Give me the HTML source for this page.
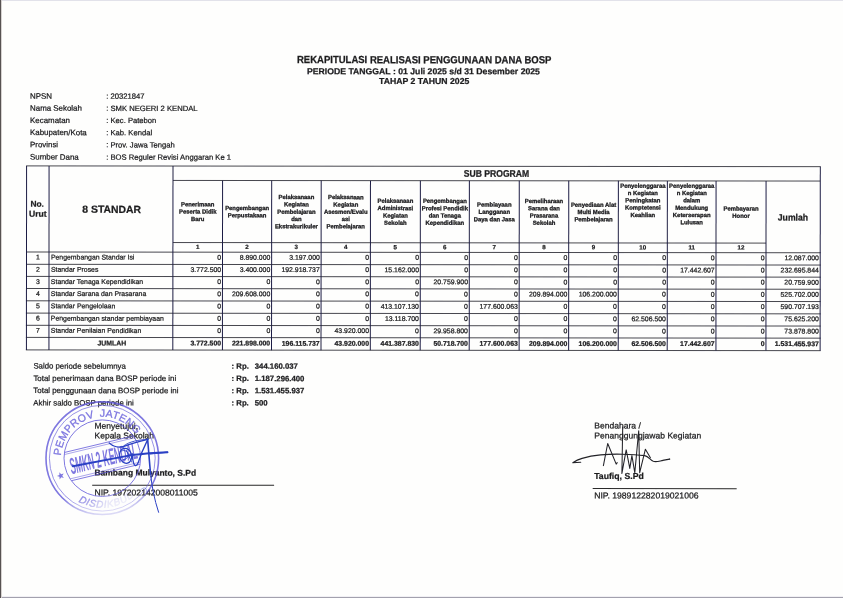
<!DOCTYPE html>
<html lang="id"><head><meta charset="utf-8"><title>Rekapitulasi Realisasi Penggunaan Dana BOSP</title>
<style>
html,body{margin:0;padding:0;background:#fefefd;}
body{width:843px;height:598px;position:relative;overflow:hidden;}
svg{position:absolute;left:0;top:0;display:block;}
text{font-family:"Liberation Sans",sans-serif;white-space:pre;}
</style></head><body>
<svg width="843" height="598" viewBox="0 0 843 598">
<rect x="0" y="0" width="843" height="598" fill="#fefefd"/>
<rect x="0" y="0" width="843" height="1" fill="#e2e2ea"/>
<rect x="0" y="597" width="843" height="1" fill="#a3a1ae"/>
<rect x="0" y="596" width="843" height="1" fill="#f1f0f4"/>
<rect x="0" y="0" width="1" height="598" fill="#575252"/>
<rect x="1" y="0" width="1" height="598" fill="#d6d2d0"/>
<defs><filter id="soft" x="0" y="0" width="843" height="598" filterUnits="userSpaceOnUse"><feGaussianBlur stdDeviation="0.32"/></filter></defs>
<g filter="url(#soft)"><g transform="rotate(0.055 27 260)" fill="#1c1c1e" stroke="#1c1c1e" stroke-width="0.24">
<text transform="translate(424.00,62.80) scale(1.0,1.08)" font-size="9.53" text-anchor="middle" font-weight="bold">REKAPITULASI REALISASI PENGGUNAAN DANA BOSP</text>
<text x="423.30" y="73.90" font-size="8.69" text-anchor="middle" font-weight="bold">PERIODE TANGGAL : 01 Juli 2025 s/d 31 Desember 2025</text>
<text x="424.00" y="83.60" font-size="8.7" text-anchor="middle" font-weight="bold">TAHAP 2 TAHUN 2025</text>
<text x="29.90" y="98.70" font-size="7.92" text-anchor="start">NPSN</text>
<text x="106.10" y="98.70" font-size="7.65" text-anchor="start">: 20321847</text>
<text x="29.90" y="110.80" font-size="7.92" text-anchor="start">Nama Sekolah</text>
<text x="106.10" y="110.80" font-size="7.65" text-anchor="start">: SMK NEGERI 2 KENDAL</text>
<text x="29.90" y="123.00" font-size="7.92" text-anchor="start">Kecamatan</text>
<text x="106.10" y="123.00" font-size="7.65" text-anchor="start">: Kec. Patebon</text>
<text x="29.90" y="135.10" font-size="7.92" text-anchor="start">Kabupaten/Kota</text>
<text x="106.10" y="135.10" font-size="7.65" text-anchor="start">: Kab. Kendal</text>
<text x="29.90" y="147.30" font-size="7.92" text-anchor="start">Provinsi</text>
<text x="106.10" y="147.30" font-size="7.65" text-anchor="start">: Prov. Jawa Tengah</text>
<text x="29.90" y="159.60" font-size="7.92" text-anchor="start">Sumber Dana</text>
<text x="106.10" y="159.60" font-size="7.65" text-anchor="start">: BOS Reguler Revisi Anggaran Ke 1</text>
<line x1="26.00" y1="165.90" x2="820.70" y2="165.90" stroke="#3e3e46" stroke-width="0.95"/>
<line x1="172.90" y1="180.30" x2="820.20" y2="180.30" stroke="#3e3e46" stroke-width="0.95"/>
<line x1="172.90" y1="242.40" x2="766.00" y2="242.40" stroke="#3e3e46" stroke-width="0.95"/>
<line x1="26.00" y1="252.00" x2="820.70" y2="252.00" stroke="#3e3e46" stroke-width="0.95"/>
<line x1="26.00" y1="264.30" x2="820.70" y2="264.30" stroke="#3e3e46" stroke-width="0.95"/>
<line x1="26.00" y1="276.40" x2="820.70" y2="276.40" stroke="#3e3e46" stroke-width="0.95"/>
<line x1="26.00" y1="288.50" x2="820.70" y2="288.50" stroke="#3e3e46" stroke-width="0.95"/>
<line x1="26.00" y1="300.80" x2="820.70" y2="300.80" stroke="#3e3e46" stroke-width="0.95"/>
<line x1="26.00" y1="313.10" x2="820.70" y2="313.10" stroke="#3e3e46" stroke-width="0.95"/>
<line x1="26.00" y1="325.30" x2="820.70" y2="325.30" stroke="#3e3e46" stroke-width="0.95"/>
<line x1="26.00" y1="337.40" x2="820.70" y2="337.40" stroke="#3e3e46" stroke-width="0.95"/>
<line x1="26.00" y1="349.90" x2="820.70" y2="349.90" stroke="#3e3e46" stroke-width="0.95"/>
<line x1="26.50" y1="165.90" x2="26.50" y2="349.90" stroke="#1e1e44" stroke-width="1.0"/>
<line x1="49.00" y1="165.90" x2="49.00" y2="349.90" stroke="#1e1e44" stroke-width="1.0"/>
<line x1="172.90" y1="165.90" x2="172.90" y2="349.90" stroke="#1e1e44" stroke-width="1.0"/>
<line x1="820.20" y1="165.90" x2="820.20" y2="349.90" stroke="#1e1e44" stroke-width="1.0"/>
<line x1="222.50" y1="180.30" x2="222.50" y2="349.90" stroke="#1e1e44" stroke-width="1.0"/>
<line x1="271.60" y1="180.30" x2="271.60" y2="349.90" stroke="#1e1e44" stroke-width="1.0"/>
<line x1="321.10" y1="180.30" x2="321.10" y2="349.90" stroke="#1e1e44" stroke-width="1.0"/>
<line x1="370.40" y1="180.30" x2="370.40" y2="349.90" stroke="#1e1e44" stroke-width="1.0"/>
<line x1="420.30" y1="180.30" x2="420.30" y2="349.90" stroke="#1e1e44" stroke-width="1.0"/>
<line x1="469.30" y1="180.30" x2="469.30" y2="349.90" stroke="#1e1e44" stroke-width="1.0"/>
<line x1="519.20" y1="180.30" x2="519.20" y2="349.90" stroke="#1e1e44" stroke-width="1.0"/>
<line x1="568.70" y1="180.30" x2="568.70" y2="349.90" stroke="#1e1e44" stroke-width="1.0"/>
<line x1="618.30" y1="180.30" x2="618.30" y2="349.90" stroke="#1e1e44" stroke-width="1.0"/>
<line x1="667.30" y1="180.30" x2="667.30" y2="349.90" stroke="#1e1e44" stroke-width="1.0"/>
<line x1="716.00" y1="180.30" x2="716.00" y2="349.90" stroke="#1e1e44" stroke-width="1.0"/>
<line x1="766.00" y1="180.30" x2="766.00" y2="349.90" stroke="#1e1e44" stroke-width="1.0"/>
<text x="30.40" y="206.70" font-size="8.4" text-anchor="start" font-weight="bold">No.</text>
<text x="28.90" y="216.70" font-size="8.6" text-anchor="start" font-weight="bold">Urut</text>
<text x="111.60" y="212.80" font-size="10.4" text-anchor="middle" font-weight="bold">8 STANDAR</text>
<text transform="translate(496.40,176.30) scale(1.0,1.12)" font-size="8.6" text-anchor="middle" font-weight="bold">SUB PROGRAM</text>
<text transform="translate(792.90,219.70) scale(1.0,1.06)" font-size="8.65" text-anchor="middle" font-weight="bold">Jumlah</text>
<text x="197.70" y="206.12" font-size="5.9" text-anchor="middle" font-weight="bold" stroke-width="0.3">Penerimaan</text>
<text x="197.70" y="213.42" font-size="5.9" text-anchor="middle" font-weight="bold" stroke-width="0.3">Peserta Didik</text>
<text x="197.70" y="220.72" font-size="5.9" text-anchor="middle" font-weight="bold" stroke-width="0.3">Baru</text>
<text x="197.70" y="248.80" font-size="6.2" text-anchor="middle" font-weight="bold">1</text>
<text x="247.05" y="209.77" font-size="5.9" text-anchor="middle" font-weight="bold" stroke-width="0.3">Pengembangan</text>
<text x="247.05" y="217.07" font-size="5.9" text-anchor="middle" font-weight="bold" stroke-width="0.3">Perpustakaan</text>
<text x="247.05" y="248.80" font-size="6.2" text-anchor="middle" font-weight="bold">2</text>
<text x="296.35" y="198.82" font-size="5.9" text-anchor="middle" font-weight="bold" stroke-width="0.3">Pelaksanaan</text>
<text x="296.35" y="206.12" font-size="5.9" text-anchor="middle" font-weight="bold" stroke-width="0.3">Kegiatan</text>
<text x="296.35" y="213.42" font-size="5.9" text-anchor="middle" font-weight="bold" stroke-width="0.3">Pembelajaran</text>
<text x="296.35" y="220.72" font-size="5.9" text-anchor="middle" font-weight="bold" stroke-width="0.3">dan</text>
<text x="296.35" y="228.02" font-size="5.9" text-anchor="middle" font-weight="bold" stroke-width="0.3">Ekstrakurikuler</text>
<text x="296.35" y="248.80" font-size="6.2" text-anchor="middle" font-weight="bold">3</text>
<text x="345.75" y="198.82" font-size="5.9" text-anchor="middle" font-weight="bold" stroke-width="0.3">Pelaksanaan</text>
<text x="345.75" y="206.12" font-size="5.9" text-anchor="middle" font-weight="bold" stroke-width="0.3">Kegiatan</text>
<text x="345.75" y="213.42" font-size="5.9" text-anchor="middle" font-weight="bold" stroke-width="0.3">Asesmen/Evalu</text>
<text x="345.75" y="220.72" font-size="5.9" text-anchor="middle" font-weight="bold" stroke-width="0.3">asi</text>
<text x="345.75" y="228.02" font-size="5.9" text-anchor="middle" font-weight="bold" stroke-width="0.3">Pembelajaran</text>
<text x="345.75" y="248.80" font-size="6.2" text-anchor="middle" font-weight="bold">4</text>
<text x="395.35" y="202.47" font-size="5.9" text-anchor="middle" font-weight="bold" stroke-width="0.3">Pelaksanaan</text>
<text x="395.35" y="209.77" font-size="5.9" text-anchor="middle" font-weight="bold" stroke-width="0.3">Administrasi</text>
<text x="395.35" y="217.07" font-size="5.9" text-anchor="middle" font-weight="bold" stroke-width="0.3">Kegiatan</text>
<text x="395.35" y="224.37" font-size="5.9" text-anchor="middle" font-weight="bold" stroke-width="0.3">Sekolah</text>
<text x="395.35" y="248.80" font-size="6.2" text-anchor="middle" font-weight="bold">5</text>
<text x="444.80" y="202.47" font-size="5.9" text-anchor="middle" font-weight="bold" stroke-width="0.3">Pengembangan</text>
<text x="444.80" y="209.77" font-size="5.9" text-anchor="middle" font-weight="bold" stroke-width="0.3">Profesi Pendidik</text>
<text x="444.80" y="217.07" font-size="5.9" text-anchor="middle" font-weight="bold" stroke-width="0.3">dan Tenaga</text>
<text x="444.80" y="224.37" font-size="5.9" text-anchor="middle" font-weight="bold" stroke-width="0.3">Kependidikan</text>
<text x="444.80" y="248.80" font-size="6.2" text-anchor="middle" font-weight="bold">6</text>
<text x="494.25" y="206.12" font-size="5.9" text-anchor="middle" font-weight="bold" stroke-width="0.3">Pembiayaan</text>
<text x="494.25" y="213.42" font-size="5.9" text-anchor="middle" font-weight="bold" stroke-width="0.3">Langganan</text>
<text x="494.25" y="220.72" font-size="5.9" text-anchor="middle" font-weight="bold" stroke-width="0.3">Daya dan Jasa</text>
<text x="494.25" y="248.80" font-size="6.2" text-anchor="middle" font-weight="bold">7</text>
<text x="543.95" y="202.47" font-size="5.9" text-anchor="middle" font-weight="bold" stroke-width="0.3">Pemeliharaan</text>
<text x="543.95" y="209.77" font-size="5.9" text-anchor="middle" font-weight="bold" stroke-width="0.3">Sarana dan</text>
<text x="543.95" y="217.07" font-size="5.9" text-anchor="middle" font-weight="bold" stroke-width="0.3">Prasarana</text>
<text x="543.95" y="224.37" font-size="5.9" text-anchor="middle" font-weight="bold" stroke-width="0.3">Sekolah</text>
<text x="543.95" y="248.80" font-size="6.2" text-anchor="middle" font-weight="bold">8</text>
<text x="593.50" y="206.12" font-size="5.9" text-anchor="middle" font-weight="bold" stroke-width="0.3">Penyediaan Alat</text>
<text x="593.50" y="213.42" font-size="5.9" text-anchor="middle" font-weight="bold" stroke-width="0.3">Multi Media</text>
<text x="593.50" y="220.72" font-size="5.9" text-anchor="middle" font-weight="bold" stroke-width="0.3">Pembelajaran</text>
<text x="593.50" y="248.80" font-size="6.2" text-anchor="middle" font-weight="bold">9</text>
<text x="642.80" y="187.12" font-size="5.9" text-anchor="middle" font-weight="bold" stroke-width="0.3">Penyelenggaraa</text>
<text x="642.80" y="194.42" font-size="5.9" text-anchor="middle" font-weight="bold" stroke-width="0.3">n Kegiatan</text>
<text x="642.80" y="201.72" font-size="5.9" text-anchor="middle" font-weight="bold" stroke-width="0.3">Peningkatan</text>
<text x="642.80" y="209.02" font-size="5.9" text-anchor="middle" font-weight="bold" stroke-width="0.3">Komptetensi</text>
<text x="642.80" y="216.32" font-size="5.9" text-anchor="middle" font-weight="bold" stroke-width="0.3">Keahlian</text>
<text x="642.80" y="248.80" font-size="6.2" text-anchor="middle" font-weight="bold">10</text>
<text x="691.65" y="187.12" font-size="5.9" text-anchor="middle" font-weight="bold" stroke-width="0.3">Penyelenggaraa</text>
<text x="691.65" y="194.42" font-size="5.9" text-anchor="middle" font-weight="bold" stroke-width="0.3">n Kegiatan</text>
<text x="691.65" y="201.72" font-size="5.9" text-anchor="middle" font-weight="bold" stroke-width="0.3">dalam</text>
<text x="691.65" y="209.02" font-size="5.9" text-anchor="middle" font-weight="bold" stroke-width="0.3">Mendukung</text>
<text x="691.65" y="216.32" font-size="5.9" text-anchor="middle" font-weight="bold" stroke-width="0.3">Keterserapan</text>
<text x="691.65" y="223.62" font-size="5.9" text-anchor="middle" font-weight="bold" stroke-width="0.3">Lulusan</text>
<text x="691.65" y="248.80" font-size="6.2" text-anchor="middle" font-weight="bold">11</text>
<text x="741.00" y="209.77" font-size="5.9" text-anchor="middle" font-weight="bold" stroke-width="0.3">Pembayaran</text>
<text x="741.00" y="217.07" font-size="5.9" text-anchor="middle" font-weight="bold" stroke-width="0.3">Honor</text>
<text x="741.00" y="248.80" font-size="6.2" text-anchor="middle" font-weight="bold">12</text>
<text x="38.00" y="259.50" font-size="6.9" text-anchor="middle">1</text>
<text x="50.90" y="259.50" font-size="6.9" text-anchor="start">Pengembangan Standar Isi</text>
<text x="221.20" y="259.50" font-size="6.9" text-anchor="end">0</text>
<text x="270.30" y="259.50" font-size="6.9" text-anchor="end">8.890.000</text>
<text x="319.80" y="259.50" font-size="6.9" text-anchor="end">3.197.000</text>
<text x="369.10" y="259.50" font-size="6.9" text-anchor="end">0</text>
<text x="419.00" y="259.50" font-size="6.9" text-anchor="end">0</text>
<text x="468.00" y="259.50" font-size="6.9" text-anchor="end">0</text>
<text x="517.90" y="259.50" font-size="6.9" text-anchor="end">0</text>
<text x="567.40" y="259.50" font-size="6.9" text-anchor="end">0</text>
<text x="617.00" y="259.50" font-size="6.9" text-anchor="end">0</text>
<text x="666.00" y="259.50" font-size="6.9" text-anchor="end">0</text>
<text x="714.70" y="259.50" font-size="6.9" text-anchor="end">0</text>
<text x="764.70" y="259.50" font-size="6.9" text-anchor="end">0</text>
<text x="818.90" y="259.50" font-size="6.9" text-anchor="end">12.087.000</text>
<text x="38.00" y="271.80" font-size="6.9" text-anchor="middle">2</text>
<text x="50.90" y="271.80" font-size="6.9" text-anchor="start">Standar Proses</text>
<text x="221.20" y="271.80" font-size="6.9" text-anchor="end">3.772.500</text>
<text x="270.30" y="271.80" font-size="6.9" text-anchor="end">3.400.000</text>
<text x="319.80" y="271.80" font-size="6.9" text-anchor="end">192.918.737</text>
<text x="369.10" y="271.80" font-size="6.9" text-anchor="end">0</text>
<text x="419.00" y="271.80" font-size="6.9" text-anchor="end">15.162.000</text>
<text x="468.00" y="271.80" font-size="6.9" text-anchor="end">0</text>
<text x="517.90" y="271.80" font-size="6.9" text-anchor="end">0</text>
<text x="567.40" y="271.80" font-size="6.9" text-anchor="end">0</text>
<text x="617.00" y="271.80" font-size="6.9" text-anchor="end">0</text>
<text x="666.00" y="271.80" font-size="6.9" text-anchor="end">0</text>
<text x="714.70" y="271.80" font-size="6.9" text-anchor="end">17.442.607</text>
<text x="764.70" y="271.80" font-size="6.9" text-anchor="end">0</text>
<text x="818.90" y="271.80" font-size="6.9" text-anchor="end">232.695.844</text>
<text x="38.00" y="283.90" font-size="6.9" text-anchor="middle">3</text>
<text x="50.90" y="283.90" font-size="6.9" text-anchor="start">Standar Tenaga Kependidikan</text>
<text x="221.20" y="283.90" font-size="6.9" text-anchor="end">0</text>
<text x="270.30" y="283.90" font-size="6.9" text-anchor="end">0</text>
<text x="319.80" y="283.90" font-size="6.9" text-anchor="end">0</text>
<text x="369.10" y="283.90" font-size="6.9" text-anchor="end">0</text>
<text x="419.00" y="283.90" font-size="6.9" text-anchor="end">0</text>
<text x="468.00" y="283.90" font-size="6.9" text-anchor="end">20.759.900</text>
<text x="517.90" y="283.90" font-size="6.9" text-anchor="end">0</text>
<text x="567.40" y="283.90" font-size="6.9" text-anchor="end">0</text>
<text x="617.00" y="283.90" font-size="6.9" text-anchor="end">0</text>
<text x="666.00" y="283.90" font-size="6.9" text-anchor="end">0</text>
<text x="714.70" y="283.90" font-size="6.9" text-anchor="end">0</text>
<text x="764.70" y="283.90" font-size="6.9" text-anchor="end">0</text>
<text x="818.90" y="283.90" font-size="6.9" text-anchor="end">20.759.900</text>
<text x="38.00" y="296.00" font-size="6.9" text-anchor="middle">4</text>
<text x="50.90" y="296.00" font-size="6.9" text-anchor="start">Standar Sarana dan Prasarana</text>
<text x="221.20" y="296.00" font-size="6.9" text-anchor="end">0</text>
<text x="270.30" y="296.00" font-size="6.9" text-anchor="end">209.608.000</text>
<text x="319.80" y="296.00" font-size="6.9" text-anchor="end">0</text>
<text x="369.10" y="296.00" font-size="6.9" text-anchor="end">0</text>
<text x="419.00" y="296.00" font-size="6.9" text-anchor="end">0</text>
<text x="468.00" y="296.00" font-size="6.9" text-anchor="end">0</text>
<text x="517.90" y="296.00" font-size="6.9" text-anchor="end">0</text>
<text x="567.40" y="296.00" font-size="6.9" text-anchor="end">209.894.000</text>
<text x="617.00" y="296.00" font-size="6.9" text-anchor="end">106.200.000</text>
<text x="666.00" y="296.00" font-size="6.9" text-anchor="end">0</text>
<text x="714.70" y="296.00" font-size="6.9" text-anchor="end">0</text>
<text x="764.70" y="296.00" font-size="6.9" text-anchor="end">0</text>
<text x="818.90" y="296.00" font-size="6.9" text-anchor="end">525.702.000</text>
<text x="38.00" y="308.30" font-size="6.9" text-anchor="middle">5</text>
<text x="50.90" y="308.30" font-size="6.9" text-anchor="start">Standar Pengelolaan</text>
<text x="221.20" y="308.30" font-size="6.9" text-anchor="end">0</text>
<text x="270.30" y="308.30" font-size="6.9" text-anchor="end">0</text>
<text x="319.80" y="308.30" font-size="6.9" text-anchor="end">0</text>
<text x="369.10" y="308.30" font-size="6.9" text-anchor="end">0</text>
<text x="419.00" y="308.30" font-size="6.9" text-anchor="end">413.107.130</text>
<text x="468.00" y="308.30" font-size="6.9" text-anchor="end">0</text>
<text x="517.90" y="308.30" font-size="6.9" text-anchor="end">177.600.063</text>
<text x="567.40" y="308.30" font-size="6.9" text-anchor="end">0</text>
<text x="617.00" y="308.30" font-size="6.9" text-anchor="end">0</text>
<text x="666.00" y="308.30" font-size="6.9" text-anchor="end">0</text>
<text x="714.70" y="308.30" font-size="6.9" text-anchor="end">0</text>
<text x="764.70" y="308.30" font-size="6.9" text-anchor="end">0</text>
<text x="818.90" y="308.30" font-size="6.9" text-anchor="end">590.707.193</text>
<text x="38.00" y="320.60" font-size="6.9" text-anchor="middle">6</text>
<text x="50.90" y="320.60" font-size="6.9" text-anchor="start">Pengembangan standar pembiayaan</text>
<text x="221.20" y="320.60" font-size="6.9" text-anchor="end">0</text>
<text x="270.30" y="320.60" font-size="6.9" text-anchor="end">0</text>
<text x="319.80" y="320.60" font-size="6.9" text-anchor="end">0</text>
<text x="369.10" y="320.60" font-size="6.9" text-anchor="end">0</text>
<text x="419.00" y="320.60" font-size="6.9" text-anchor="end">13.118.700</text>
<text x="468.00" y="320.60" font-size="6.9" text-anchor="end">0</text>
<text x="517.90" y="320.60" font-size="6.9" text-anchor="end">0</text>
<text x="567.40" y="320.60" font-size="6.9" text-anchor="end">0</text>
<text x="617.00" y="320.60" font-size="6.9" text-anchor="end">0</text>
<text x="666.00" y="320.60" font-size="6.9" text-anchor="end">62.506.500</text>
<text x="714.70" y="320.60" font-size="6.9" text-anchor="end">0</text>
<text x="764.70" y="320.60" font-size="6.9" text-anchor="end">0</text>
<text x="818.90" y="320.60" font-size="6.9" text-anchor="end">75.625.200</text>
<text x="38.00" y="332.80" font-size="6.9" text-anchor="middle">7</text>
<text x="50.90" y="332.80" font-size="6.9" text-anchor="start">Standar Penilaian Pendidikan</text>
<text x="221.20" y="332.80" font-size="6.9" text-anchor="end">0</text>
<text x="270.30" y="332.80" font-size="6.9" text-anchor="end">0</text>
<text x="319.80" y="332.80" font-size="6.9" text-anchor="end">0</text>
<text x="369.10" y="332.80" font-size="6.9" text-anchor="end">43.920.000</text>
<text x="419.00" y="332.80" font-size="6.9" text-anchor="end">0</text>
<text x="468.00" y="332.80" font-size="6.9" text-anchor="end">29.958.800</text>
<text x="517.90" y="332.80" font-size="6.9" text-anchor="end">0</text>
<text x="567.40" y="332.80" font-size="6.9" text-anchor="end">0</text>
<text x="617.00" y="332.80" font-size="6.9" text-anchor="end">0</text>
<text x="666.00" y="332.80" font-size="6.9" text-anchor="end">0</text>
<text x="714.70" y="332.80" font-size="6.9" text-anchor="end">0</text>
<text x="764.70" y="332.80" font-size="6.9" text-anchor="end">0</text>
<text x="818.90" y="332.80" font-size="6.9" text-anchor="end">73.878.800</text>
<text x="111.90" y="345.40" font-size="6.9" text-anchor="middle" font-weight="bold">JUMLAH</text>
<text x="221.20" y="345.40" font-size="6.9" text-anchor="end" font-weight="bold">3.772.500</text>
<text x="270.30" y="345.40" font-size="6.9" text-anchor="end" font-weight="bold">221.898.000</text>
<text x="319.80" y="345.40" font-size="6.9" text-anchor="end" font-weight="bold">196.115.737</text>
<text x="369.10" y="345.40" font-size="6.9" text-anchor="end" font-weight="bold">43.920.000</text>
<text x="419.00" y="345.40" font-size="6.9" text-anchor="end" font-weight="bold">441.387.830</text>
<text x="468.00" y="345.40" font-size="6.9" text-anchor="end" font-weight="bold">50.718.700</text>
<text x="517.90" y="345.40" font-size="6.9" text-anchor="end" font-weight="bold">177.600.063</text>
<text x="567.40" y="345.40" font-size="6.9" text-anchor="end" font-weight="bold">209.894.000</text>
<text x="617.00" y="345.40" font-size="6.9" text-anchor="end" font-weight="bold">106.200.000</text>
<text x="666.00" y="345.40" font-size="6.9" text-anchor="end" font-weight="bold">62.506.500</text>
<text x="714.70" y="345.40" font-size="6.9" text-anchor="end" font-weight="bold">17.442.607</text>
<text x="764.70" y="345.40" font-size="6.9" text-anchor="end" font-weight="bold">0</text>
<text x="818.90" y="345.40" font-size="6.9" text-anchor="end" font-weight="bold">1.531.455.937</text>
<text x="33.50" y="368.60" font-size="7.8" text-anchor="start">Saldo periode sebelumnya</text>
<text x="231.70" y="368.60" font-size="7.75" text-anchor="start" font-weight="bold">: Rp.</text>
<text x="254.90" y="368.60" font-size="7.75" text-anchor="start" font-weight="bold">344.160.037</text>
<text x="33.50" y="380.90" font-size="7.9" text-anchor="start">Total penerimaan dana BOSP periode ini</text>
<text x="231.70" y="380.90" font-size="7.75" text-anchor="start" font-weight="bold">: Rp.</text>
<text x="254.90" y="380.90" font-size="7.75" text-anchor="start" font-weight="bold">1.187.296.400</text>
<text x="33.50" y="393.10" font-size="7.9" text-anchor="start">Total penggunaan dana BOSP periode ini</text>
<text x="231.70" y="393.10" font-size="7.75" text-anchor="start" font-weight="bold">: Rp.</text>
<text x="254.90" y="393.10" font-size="7.75" text-anchor="start" font-weight="bold">1.531.455.937</text>
<text x="33.50" y="405.40" font-size="7.8" text-anchor="start">Akhir saldo BOSP periode ini</text>
<text x="231.70" y="405.40" font-size="7.75" text-anchor="start" font-weight="bold">: Rp.</text>
<text x="254.90" y="405.40" font-size="7.75" text-anchor="start" font-weight="bold">500</text>
<text x="94.70" y="428.80" font-size="8.5" text-anchor="start">Menyetujui,</text>
<text x="94.70" y="438.50" font-size="8.5" text-anchor="start">Kepala Sekolah</text>
<text x="94.70" y="475.50" font-size="8.47" text-anchor="start" font-weight="bold">Bambang Mulyanto, S.Pd</text>
<line x1="92.40" y1="485.10" x2="274.30" y2="485.10" stroke="#2a2a2a" stroke-width="1"/>
<text x="94.70" y="495.40" font-size="8.6" text-anchor="start">NIP. 197202142008011005</text>
<text x="594.40" y="427.90" font-size="8.56" text-anchor="start">Bendahara /</text>
<text x="594.40" y="437.90" font-size="8.56" text-anchor="start">Penanggungjawab Kegiatan</text>
<text x="594.40" y="478.40" font-size="8.7" text-anchor="start" font-weight="bold">Taufiq, S.Pd</text>
<line x1="592.90" y1="488.00" x2="736.90" y2="488.00" stroke="#2a2a2a" stroke-width="1"/>
<text x="594.40" y="497.90" font-size="8.64" text-anchor="start">NIP. 198912282019021006</text>
</g></g>
</svg>
<svg width="843" height="598" viewBox="0 0 843 598" style="pointer-events:none">
<defs>
<path id="arcTop" d="M60.98,455.67 A41.4,41.4 0 1 1 138.15,478.90"/>
<path id="arcBot" d="M78.25,501.58 A49.6,49.6 0 0 0 142.93,486.65"/>
<linearGradient id="fade" x1="0.42" y1="0" x2="0.58" y2="1"><stop offset="0" stop-color="#fff"/><stop offset="0.74" stop-color="#fff"/><stop offset="0.82" stop-color="#999"/><stop offset="0.9" stop-color="#4a4a4a"/><stop offset="1" stop-color="#2a2a2a"/></linearGradient>
<linearGradient id="fade2" x1="0" y1="0" x2="1" y2="0"><stop offset="0" stop-color="#fff"/><stop offset="0.3" stop-color="#eee"/><stop offset="0.55" stop-color="#555"/><stop offset="1" stop-color="#333"/></linearGradient>
<mask id="fm2"><rect x="70" y="480" width="70" height="45" fill="url(#fade2)"/></mask>
<mask id="fm"><rect x="40" y="395" width="130" height="130" fill="url(#fade)"/></mask>
<filter id="bl" x="-5%" y="-5%" width="110%" height="110%"><feGaussianBlur stdDeviation="0.35"/></filter>
</defs>
<g mask="url(#fm)" filter="url(#bl)" opacity="0.78" fill="none" stroke="#5b52d8">
<circle cx="102.3" cy="458.2" r="56.3" stroke-width="1.6"/>
<circle cx="102.3" cy="458.2" r="52.9" stroke-width="0.8"/>
<circle cx="102.3" cy="458.2" r="38.3" stroke-width="1.0"/>
<text font-family="Liberation Sans, sans-serif" font-size="10.6" fill="#5b52d8" stroke="#5b52d8" stroke-width="0.32" letter-spacing="0.2" word-spacing="2.2"><textPath href="#arcTop" startOffset="0">PEMPROV JATENG</textPath></text>
<g mask="url(#fm2)"><text font-family="Liberation Sans, sans-serif" font-size="10" font-style="italic" fill="#5b52d8" stroke="#5b52d8" stroke-width="0.35" letter-spacing="0.7"><textPath href="#arcBot" startOffset="0">DISDIKBUD</textPath></text></g>
<polygon points="59.40,472.23 61.13,474.31 63.69,473.46 62.25,475.75 63.85,477.92 61.23,477.26 59.65,479.45 59.48,476.75 56.90,475.93 59.41,474.93" fill="#5b52d8" stroke="none"/>
<g transform="translate(102.3,458.2) rotate(-13.5)">
<line x1="-35.49" y1="-14.4" x2="35.49" y2="-14.4" stroke-width="0.9"/>
<line x1="-36.24" y1="-12.4" x2="36.24" y2="-12.4" stroke-width="0.6"/>
<line x1="-36.17" y1="12.6" x2="36.17" y2="12.6" stroke-width="0.6"/>
<line x1="-35.37" y1="14.7" x2="35.37" y2="14.7" stroke-width="0.9"/>
<text x="-33.5" y="8.4" font-family="Liberation Sans, sans-serif" font-weight="bold" font-style="italic" font-size="23" textLength="69" lengthAdjust="spacingAndGlyphs" fill="#5b52d8" stroke="none">SMKN 2 KENDAL</text>
</g>
</g>
<g fill="none" stroke="#2a40c4" stroke-linecap="round" stroke-linejoin="round" filter="url(#bl)">
<path d="M72.8,466.2 C92,462.6 112,458.6 132,455.0 C145,453.4 158,452.6 167.5,452.2" stroke-width="1.9"/>
<path d="M150,454.0 L167.5,452.2" stroke-width="1.2"/>
<path d="M109.2,443.0 C113,446.5 119,448 124,446.3 C131,443.6 140,441.2 147.8,439.4" stroke-width="1.3"/>
<path d="M123.5,446.0 C129,441.6 139,439.6 147.8,439.4" stroke-width="0.9"/>
<path d="M147.8,439.4 C144,447 140.5,455 137.8,463.6 C136.5,466.6 134.2,465.8 133.6,463.2 C132.6,459.5 132.4,456.5 132.2,453.6" stroke-width="1.3"/>
<path d="M147.6,439.0 C148.6,450 149.4,462 150.6,474" stroke-width="1.6"/>
<path d="M150.6,474 C151.8,486 154.2,499 158.6,512.3" stroke-width="1.0"/>
<ellipse cx="125.6" cy="455.8" rx="6.0" ry="7.6" transform="rotate(-14 125.6 455.8)" stroke-width="1.25"/>
<path d="M120.5,451.5 C123,449.5 127,450.5 128,453.5 C128.8,456.5 126.5,459.8 123.6,459.6 M126.5,450.5 L131.5,462.0" stroke-width="0.9"/>
<path d="M140.5,490 C143.5,486.5 147.5,487.5 146.5,491.5" stroke-width="0.7" opacity="0.6"/>
</g>
<g fill="none" stroke="#222228" stroke-linecap="round" stroke-linejoin="round" filter="url(#bl)">
<path d="M580.7,462.3 L572.8,462.8 C576,460.6 579,459.3 582.1,458.4 C588,456.6 594,455.5 600.6,454.9 C608,454.2 615,454.0 621.9,454.2 C630,454.4 638,454.8 644.7,455.6 C648.5,456.4 650.5,460.2 653.3,461.3 C656,462.2 659,461.2 661.8,460.6 C664.5,460 667,459.4 669.6,459.1" stroke-width="1.1"/>
<path d="M603.4,465.6 L607.7,443.5 L616.2,464.1 L617.2,462.6" stroke-width="1.05"/>
<path d="M622.7,427.1 L621.9,473.4 L626.2,449.9 L629.8,468.4 L631.9,455.6 L634.8,472.7 L638.7,430.7 L639.7,472.7 L645.4,449.2 L650.4,457.7" stroke-width="1.05"/>
<circle cx="669.6" cy="459.1" r="0.7" fill="#2e2e33" stroke="none"/>
</g>
</svg>
</body></html>
